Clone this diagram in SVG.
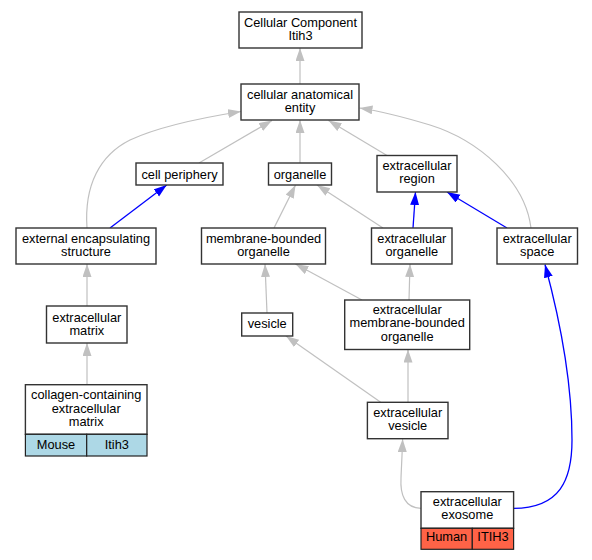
<svg xmlns="http://www.w3.org/2000/svg" width="592" height="560" viewBox="0 0 592 560">
<style>
.n rect{fill:#fff;stroke:#333;stroke-width:1.4}
rect.mouse{fill:#add8e6;stroke:#222;stroke-width:1.2}
rect.human{fill:#ff6347;stroke:#222;stroke-width:1.2}
text{font-family:"Liberation Sans",Arial,sans-serif;font-size:12.8px;text-anchor:middle;fill:#000}
.g{fill:none;stroke:#c0c0c0;stroke-width:1.2}
.b{fill:none;stroke:#0000ff;stroke-width:1.3}
.g{marker-end:url(#ag)}
.b{marker-end:url(#ab)}
</style>
<defs>
<marker id="ag" markerUnits="userSpaceOnUse" markerWidth="14" markerHeight="10" refX="13" refY="4.5" orient="auto"><path d="M0,0 L13,4.5 L0,9 z" fill="#c0c0c0"/></marker>
<marker id="ab" markerUnits="userSpaceOnUse" markerWidth="14" markerHeight="10" refX="13" refY="4.5" orient="auto"><path d="M0,0 L13,4.5 L0,9 z" fill="#0000ff"/></marker>
</defs>
<rect width="592" height="560" fill="#fff"/>
<g id="edges">
<path class="g" d="M300,84 L300,48"/>
<path class="g" d="M199,163 L272,120.5"/>
<path class="g" d="M300,163 L300,120"/>
<path class="g" d="M387,155.5 L328.5,120.5"/>
<path class="g" d="M87,228 C84,185 100,155 130,140 C160,126 200,118 241,111.5"/>
<path class="g" d="M531,228 C525,180 478,140 430,125 C400,116 380,111 359.5,108"/>
<path class="b" d="M110,228 L166.7,185"/>
<path class="g" d="M274,228 L295.5,185"/>
<path class="g" d="M383,228 L317,185"/>
<path class="b" d="M413,228 L415.5,192"/>
<path class="b" d="M507,228 L447,192"/>
<path class="g" d="M87,306 L87,264"/>
<path class="g" d="M87,384.7 L87,343"/>
<path class="g" d="M267,313 L265,264"/>
<path class="g" d="M362,300 L295.5,264"/>
<path class="g" d="M409,300 L410,264"/>
<path class="g" d="M380.7,402.3 L286,336"/>
<path class="g" d="M408,402.3 L408,349.5"/>
<path class="g" d="M421,508.3 C405,508 400,495 401,478 C401.5,465 402.3,452 402.6,439"/>
<path class="b" d="M513.6,508.3 C560,508 572,480 572,440 C572,380 560,320 545,264.5"/>
</g>
<g id="n_cc" class="n"><rect x="239" y="12" width="123" height="36"/><text x="300.5" y="26.5">Cellular Component</text><text x="300.5" y="39.5">Itih3</text></g>
<g id="n_cae" class="n"><rect x="241" y="84" width="118" height="36"/><text x="300" y="98.5">cellular anatomical</text><text x="300" y="111.5">entity</text></g>
<g id="n_cp" class="n"><rect x="136" y="163" width="87" height="22"/><text x="179.5" y="178.5">cell periphery</text></g>
<g id="n_org" class="n"><rect x="268.5" y="163" width="63" height="22"/><text x="300" y="178.5">organelle</text></g>
<g id="n_er" class="n"><rect x="377" y="155.5" width="80" height="36.5"/><text x="417" y="170">extracellular</text><text x="417" y="183">region</text></g>
<g id="n_ees" class="n"><rect x="16" y="228" width="140" height="36"/><text x="86" y="242.5">external encapsulating</text><text x="86" y="255.5">structure</text></g>
<g id="n_mbo" class="n"><rect x="201.5" y="228" width="124" height="36"/><text x="263.5" y="242.5">membrane-bounded</text><text x="263.5" y="255.5">organelle</text></g>
<g id="n_eo" class="n"><rect x="371.5" y="228" width="80.5" height="36"/><text x="411.8" y="242.5">extracellular</text><text x="411.8" y="255.5">organelle</text></g>
<g id="n_es" class="n"><rect x="497" y="228" width="80.5" height="36"/><text x="537.2" y="242.5">extracellular</text><text x="537.2" y="255.5">space</text></g>
<g id="n_em" class="n"><rect x="46.5" y="306" width="80.5" height="37"/><text x="86.8" y="321.5">extracellular</text><text x="86.8" y="334.5">matrix</text></g>
<g id="n_ves" class="n"><rect x="241.7" y="313" width="51" height="23"/><text x="267.2" y="327.5">vesicle</text></g>
<g id="n_emb" class="n"><rect x="344.7" y="300" width="125" height="49.5"/><text x="407.2" y="314">extracellular</text><text x="407.2" y="327.3">membrane-bounded</text><text x="407.2" y="340.6">organelle</text></g>
<g id="n_ccm" class="n"><rect x="25.4" y="384.7" width="121.6" height="49.6"/><text x="86.2" y="399">collagen-containing</text><text x="86.2" y="412.6">extracellular</text><text x="86.2" y="426">matrix</text><rect class="mouse" x="25.4" y="434.3" width="61.3" height="21.7"/><rect class="mouse" x="86.7" y="434.3" width="60.3" height="21.7"/><text x="56" y="448.5">Mouse</text><text x="116.8" y="448.5">Itih3</text></g>
<g id="n_ev" class="n"><rect x="367.4" y="402.3" width="80.6" height="36.4"/><text x="407.7" y="417">extracellular</text><text x="407.7" y="430">vesicle</text></g>
<g id="n_exo" class="n"><rect x="421" y="491.7" width="92.6" height="36.6"/><text x="467.3" y="506">extracellular</text><text x="467.3" y="519">exosome</text><rect class="human" x="421" y="528.3" width="51.3" height="21"/><rect class="human" x="472.3" y="528.3" width="41.3" height="21"/><text x="446.6" y="540.5">Human</text><text x="493" y="540.5">ITIH3</text></g>
</svg>
